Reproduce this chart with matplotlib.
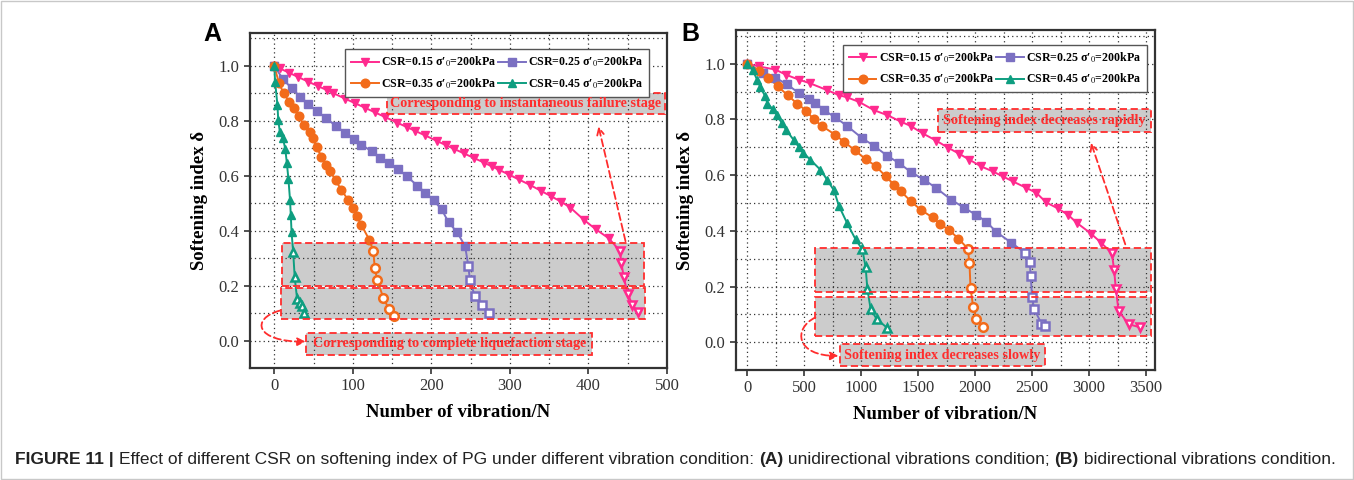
import matplotlib
matplotlib.use("Agg")
import matplotlib.pyplot as plt
from matplotlib.patches import Rectangle, FancyArrowPatch
from matplotlib.path import Path
from matplotlib.ticker import MultipleLocator

plt.rcParams['font.family'] = ['Liberation Serif', 'DejaVu Serif']
plt.rcParams['mathtext.fontset'] = 'stix'

# ---------------- data: panel A (unidirectional) ----------------
a_n_015 = [0, 7, 19, 30, 43, 56, 67, 75, 90, 103, 116, 128, 141, 156, 169, 179, 192, 207,
           218, 229, 241, 254, 267, 277, 286, 299, 311, 326, 339, 352, 365, 377, 394, 409,
           426, 440, 442, 445, 450, 456, 463]
a_d_015 = [1.0, 0.991, 0.975, 0.960, 0.943, 0.926, 0.912, 0.901, 0.881, 0.864, 0.847, 0.831,
           0.814, 0.794, 0.777, 0.764, 0.747, 0.727, 0.712, 0.698, 0.682, 0.665, 0.648, 0.634,
           0.622, 0.604, 0.587, 0.566, 0.546, 0.526, 0.506, 0.484, 0.440, 0.406, 0.372, 0.327,
           0.282, 0.230, 0.170, 0.130, 0.103]
a_n_025 = [0, 11, 22, 33, 43, 54, 66, 79, 90, 101, 111, 124, 135, 146, 158, 169, 182, 192,
           203, 213, 222, 233, 243, 247, 249, 255, 265, 274]
a_d_025 = [1.0, 0.952, 0.919, 0.888, 0.862, 0.836, 0.810, 0.780, 0.757, 0.735, 0.713, 0.689,
           0.664, 0.646, 0.623, 0.598, 0.564, 0.539, 0.510, 0.478, 0.430, 0.394, 0.343, 0.273,
           0.222, 0.164, 0.130, 0.100]
a_n_035 = [0, 6, 12, 19, 25, 31, 38, 45, 49, 54, 60, 66, 71, 78, 85, 94, 100, 105, 111, 121,
           126, 128, 131, 139, 146, 153]
a_d_035 = [1.0, 0.937, 0.900, 0.870, 0.846, 0.816, 0.785, 0.761, 0.737, 0.703, 0.670, 0.640,
           0.616, 0.585, 0.549, 0.513, 0.481, 0.452, 0.420, 0.367, 0.327, 0.263, 0.221, 0.154,
           0.115, 0.088]
a_n_045 = [0, 1, 4, 5, 7, 11, 14, 16, 18, 20, 21, 22, 24, 26, 29, 33, 35, 38]
a_d_045 = [1.0, 0.943, 0.858, 0.804, 0.761, 0.737, 0.697, 0.646, 0.588, 0.513, 0.457, 0.394,
           0.324, 0.230, 0.152, 0.137, 0.125, 0.100]

# ---------------- data: panel B (bidirectional) ----------------
b_n_015 = [0, 100, 244, 340, 450, 553, 700, 803, 876, 979, 1112, 1229, 1347, 1435, 1538, 1656,
           1759, 1862, 1950, 2053, 2156, 2244, 2332, 2450, 2538, 2623, 2723, 2817, 2891, 3017,
           3106, 3200, 3220, 3235, 3259, 3347, 3450]
b_d_015 = [1.0, 0.990, 0.979, 0.960, 0.943, 0.929, 0.905, 0.887, 0.879, 0.863, 0.833, 0.815,
           0.792, 0.776, 0.750, 0.724, 0.699, 0.676, 0.655, 0.631, 0.613, 0.595, 0.577, 0.554,
           0.536, 0.502, 0.481, 0.457, 0.429, 0.390, 0.357, 0.320, 0.260, 0.192, 0.113, 0.065,
           0.053]
b_n_025 = [0, 141, 244, 347, 450, 538, 597, 671, 773, 876, 1009, 1112, 1229, 1332, 1435, 1553,
           1656, 1788, 1906, 2009, 2097, 2185, 2318, 2441, 2479, 2488, 2500, 2518, 2582, 2617]
b_d_025 = [1.0, 0.967, 0.950, 0.926, 0.895, 0.873, 0.860, 0.833, 0.807, 0.776, 0.732, 0.705,
           0.669, 0.643, 0.611, 0.583, 0.554, 0.512, 0.482, 0.457, 0.433, 0.396, 0.357, 0.320,
           0.288, 0.236, 0.161, 0.119, 0.067, 0.059]
b_n_035 = [0, 106, 185, 265, 353, 435, 518, 582, 656, 773, 847, 941, 1038, 1126, 1215, 1290,
           1347, 1435, 1523, 1626, 1694, 1773, 1853, 1935, 1950, 1959, 1982, 2009, 2068]
b_d_035 = [1.0, 0.974, 0.950, 0.919, 0.887, 0.857, 0.831, 0.800, 0.776, 0.744, 0.720, 0.690,
           0.657, 0.633, 0.595, 0.565, 0.542, 0.506, 0.475, 0.448, 0.424, 0.402, 0.372, 0.336,
           0.284, 0.195, 0.128, 0.083, 0.055]
b_n_045 = [0, 47, 88, 112, 156, 176, 224, 259, 303, 341, 406, 450, 488, 553, 641, 700, 760,
           803, 876, 950, 1009, 1038, 1053, 1082, 1135, 1229]
b_d_045 = [1.0, 0.976, 0.940, 0.917, 0.883, 0.857, 0.836, 0.815, 0.786, 0.762, 0.726, 0.702,
           0.681, 0.655, 0.619, 0.583, 0.545, 0.490, 0.427, 0.369, 0.333, 0.270, 0.192, 0.119,
           0.083, 0.051]

labels = ["CSR=0.15 σ′$_0$=200kPa", "CSR=0.25 σ′$_0$=200kPa",
          "CSR=0.35 σ′$_0$=200kPa", "CSR=0.45 σ′$_0$=200kPa"]
colors = ['#FF2A8E', '#7B70C2', '#F26B1A', '#0E9E80']
markers = ['v', 's', 'o', '^']

RED = '#FF2D2D'
BOX_GRAY = '#c4c4c4'
MS = 6.2

fig = plt.figure(figsize=(13.54, 4.8), dpi=100)
fig.patches.append(Rectangle((0.001, 0.003), 0.998, 0.994, transform=fig.transFigure,
                             fill=False, edgecolor='#c8c8c8', linewidth=1.0))

axA = fig.add_axes([0.1846, 0.2333, 0.308, 0.698])
axB = fig.add_axes([0.5436, 0.229, 0.3095, 0.708])


def draw_series(ax, xs, ys, color, marker, label, cut):
    ax.plot(xs, ys, color=color, lw=1.4, zorder=3)
    up_x = [x for x, y in zip(xs, ys) if y >= cut]
    up_y = [y for y in ys if y >= cut]
    lo_x = [x for x, y in zip(xs, ys) if y < cut]
    lo_y = [y for y in ys if y < cut]
    ax.plot(up_x, up_y, ls='none', marker=marker, ms=MS, color=color, mec=color, zorder=4)
    ax.plot(lo_x, lo_y, ls='none', marker=marker, ms=MS, mfc='white', mec=color, mew=1.8,
            zorder=4)
    h, = ax.plot([], [], color=color, lw=1.4, marker=marker, ms=MS, label=label)
    return h


def style_axes(ax, xlim, xmajor, xminor):
    ax.set_xlim(*xlim)
    ax.set_ylim(-0.1, 1.12)
    ax.xaxis.set_major_locator(MultipleLocator(xmajor))
    ax.xaxis.set_minor_locator(MultipleLocator(xminor))
    ax.yaxis.set_major_locator(MultipleLocator(0.2))
    ax.yaxis.set_minor_locator(MultipleLocator(0.1))
    ax.set_axisbelow(True)
    ax.grid(True, which='both', ls=(0, (1, 2.5)), color='#333333', lw=0.9)
    ax.tick_params(which='major', direction='out', length=4, width=1.2,
                   labelsize=12, labelcolor='#333333', colors='#333333')
    ax.tick_params(which='minor', length=0)
    ax.yaxis.set_major_formatter(plt.FuncFormatter(lambda v, p: f"{v:.1f}"))
    for s in ax.spines.values():
        s.set_linewidth(1.6)
        s.set_color('#333333')
    ax.set_xlabel('Number of vibration/N', fontsize=13.5, fontweight='bold', labelpad=7)
    ax.set_ylabel('Softening index δ', fontsize=13.5, fontweight='bold', labelpad=8)


def shaded_box(ax, x0, y0, x1, y1):
    ax.add_patch(Rectangle((x0, y0), x1 - x0, y1 - y0, facecolor=BOX_GRAY, alpha=0.85,
                           edgecolor='none', zorder=0.3))
    ax.add_patch(Rectangle((x0, y0), x1 - x0, y1 - y0, fill=False, edgecolor=RED,
                           ls=(0, (4, 2)), lw=1.3, zorder=5))


def note(ax, x0, y0, x1, y1, text):
    shaded_box(ax, x0, y0, x1, y1)
    ax.text((x0 + x1) / 2, (y0 + y1) / 2, text, color=RED, fontsize=10.2, fontweight='bold',
            ha='center', va='center', zorder=6)


def curved_arrow(ax, pts):
    path = Path(pts, [Path.MOVETO, Path.CURVE4, Path.CURVE4, Path.CURVE4])
    ax.add_patch(FancyArrowPatch(path=path, arrowstyle='-|>', mutation_scale=12, color=RED,
                                 ls=(0, (4, 2)), lw=1.3, zorder=6))


def legend(ax, handles, anchor):
    order = [handles[0], handles[2], handles[1], handles[3]]
    leg = ax.legend(handles=order, loc='upper right', ncol=2,
                    prop={'weight': 'bold', 'size': 8.6},
                    frameon=True, fancybox=False, edgecolor='#555555', framealpha=1,
                    handlelength=2.3, columnspacing=0.2, handletextpad=0.2, borderpad=0.5,
                    labelspacing=0.55, bbox_to_anchor=anchor)
    leg.get_frame().set_linewidth(1.0)


# ---------------- panel A ----------------
hA = [draw_series(axA, xs, ys, c, m, lab, 0.34)
      for xs, ys, c, m, lab in zip([a_n_015, a_n_025, a_n_035, a_n_045],
                                   [a_d_015, a_d_025, a_d_035, a_d_045], colors, markers, labels)]
style_axes(axA, (-31, 500), 100, 50)
shaded_box(axA, 10, 0.20, 471, 0.355)
shaded_box(axA, 9, 0.079, 472, 0.19)
note(axA, 41, -0.051, 405, 0.027, 'Corresponding to complete liquefaction stage')
note(axA, 143, 0.825, 497, 0.90, 'Corresponding to instantaneous failure stage')
axA.add_patch(FancyArrowPatch((448, 0.352), (412, 0.79), arrowstyle='->', mutation_scale=12,
                              color=RED, ls=(0, (4, 2)), lw=1.3, zorder=6))
curved_arrow(axA, [(7, 0.109), (-30, 0.08), (-25, -0.005), (40, -0.004)])
legend(axA, hA, (0.972, 0.97))

# ---------------- panel B ----------------
hB = [draw_series(axB, xs, ys, c, m, lab, 0.34)
      for xs, ys, c, m, lab in zip([b_n_015, b_n_025, b_n_035, b_n_045],
                                   [b_d_015, b_d_025, b_d_035, b_d_045], colors, markers, labels)]
style_axes(axB, (-100, 3580), 500, 250)
shaded_box(axB, 597, 0.18, 3547, 0.34)
shaded_box(axB, 597, 0.023, 3547, 0.161)
note(axB, 812, -0.086, 2611, -0.007, 'Softening index decreases slowly')
note(axB, 1676, 0.756, 3547, 0.839, 'Softening index decreases rapidly')
axB.add_patch(FancyArrowPatch((3326, 0.342), (3009, 0.726), arrowstyle='->', mutation_scale=12,
                              color=RED, ls=(0, (4, 2)), lw=1.3, zorder=6))
curved_arrow(axB, [(597, 0.089), (400, 0.05), (420, -0.05), (800, -0.049)])
legend(axB, hB, (0.995, 0.975))

# panel letters
fig.text(0.150, 0.955, 'A', fontsize=18, fontweight='bold', family='Liberation Sans',
         ha='left', va='top')
fig.text(0.503, 0.955, 'B', fontsize=18, fontweight='bold', family='Liberation Sans',
         ha='left', va='top')

# caption with mixed weights
pieces = [('FIGURE 11 | ', 'bold'),
          ('Effect of different CSR on softening index of PG under different vibration condition: ', 'normal'),
          ('(A)', 'bold'), (' unidirectional vibrations condition; ', 'normal'),
          ('(B)', 'bold'), (' bidirectional vibrations condition.', 'normal')]
fig.canvas.draw()
renderer = fig.canvas.get_renderer()
x = 15 / 1354
for txt, w in pieces:
    t = fig.text(x, 0.042, txt, fontsize=12.5, fontweight=w, family='Liberation Sans',
                 ha='left', va='center', color='#222222')
    bb = t.get_window_extent(renderer=renderer)
    x = fig.transFigure.inverted().transform((bb.x1, bb.y0))[0]

fig.savefig('out.png', dpi=100)
